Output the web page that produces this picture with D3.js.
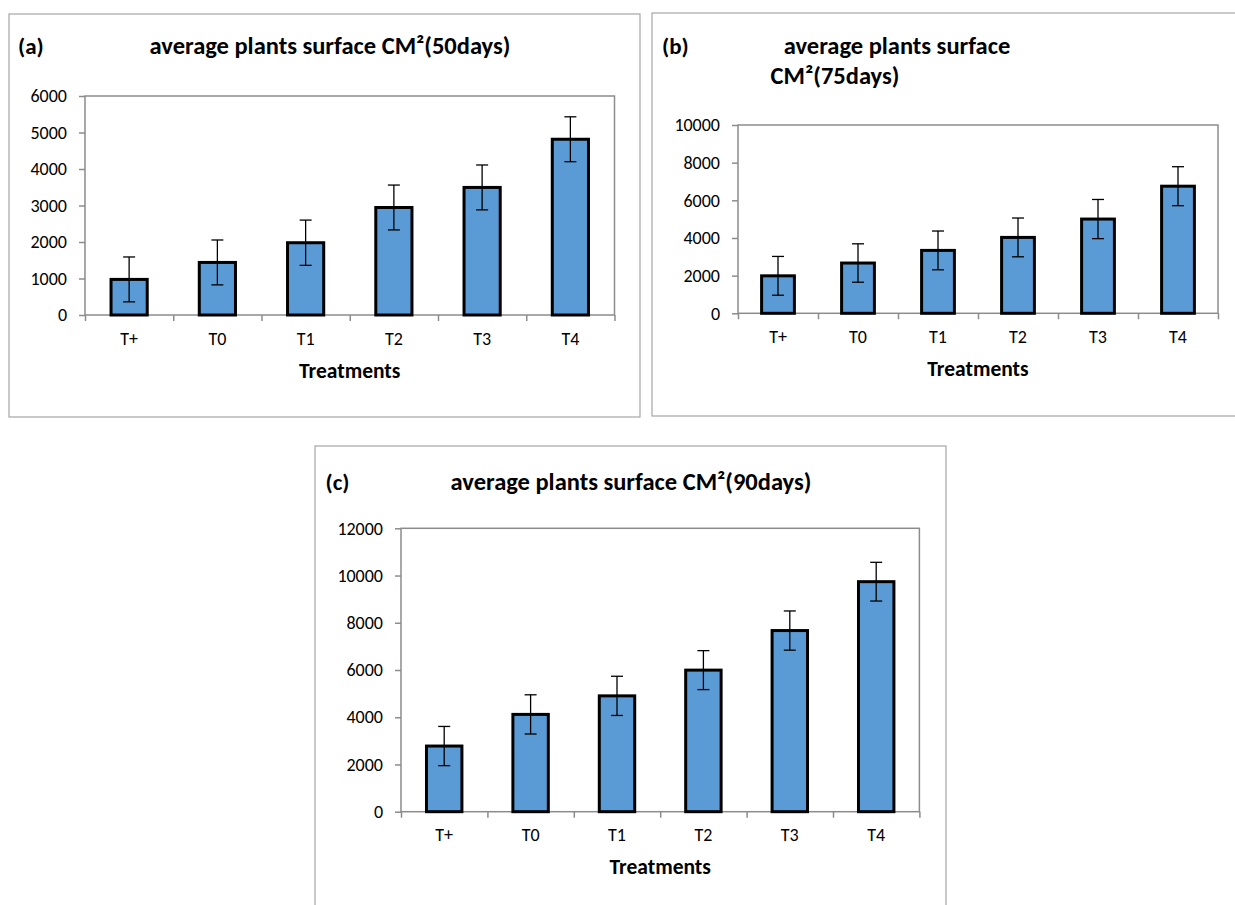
<!DOCTYPE html>
<html>
<head>
<meta charset="utf-8">
<script src="https://cdn.jsdelivr.net/npm/d3@7"></script>
<style>
  body { margin: 0; background: #fff; }
  text { font-family: Carlito, Lato, "Liberation Sans", sans-serif; fill: #000; }
</style>
</head>
<body>
<svg id="chart"></svg>
<script>
var treatments = ["T+", "T0", "T1", "T2", "T3", "T4"];

var mean50 = [975, 1440, 1980, 2945, 3495, 4815];
var err50 = [615, 615, 620, 615, 615, 615];
var ticks50 = [0, 1000, 2000, 3000, 4000, 5000, 6000];

var mean75 = [1990, 2670, 3340, 4030, 5005, 6750];
var err75 = [1030, 1020, 1030, 1030, 1040, 1035];
var ticks75 = [0, 2000, 4000, 6000, 8000, 10000];

var mean90 = [2780, 4120, 4905, 5995, 7670, 9740];
var err90 = [830, 830, 830, 825, 830, 820];
var ticks90 = [0, 2000, 4000, 6000, 8000, 10000, 12000];

var svg = d3.select("#chart").attr("width", 1235).attr("height", 905);

var draw_panel = function(p) {
  var g = svg.append("g");

  // outer frame
  g.append("rect")
    .attr("x", p.frame[0]).attr("y", p.frame[1])
    .attr("width", p.frame[2]).attr("height", p.frame[3])
    .attr("fill", "none").attr("stroke", "#a6a6a6").attr("stroke-width", 1.2);

  // panel letter + title
  g.append("text")
    .attr("x", p.letterX).attr("y", p.titleY)
    .attr("font-size", 23).attr("font-weight", "bold")
    .text(p.letter);
  p.title.forEach(function(t) {
    g.append("text")
      .attr("x", t.x).attr("y", t.y)
      .attr("text-anchor", "middle")
      .attr("font-size", 24.5).attr("font-weight", "bold")
      .text(t.text);
  });

  var x = d3.scaleBand()
    .domain(treatments)
    .range([p.left, p.right])
    .paddingInner(0.59).paddingOuter(0.295);
  var xEdges = d3.scaleLinear().domain([0, treatments.length]).range([p.left, p.right]);
  var y = d3.scaleLinear()
    .domain([0, p.ticks[p.ticks.length - 1]])
    .range([p.bottom, p.top]);

  // plot area border
  g.append("rect")
    .attr("x", p.left).attr("y", p.top)
    .attr("width", p.right - p.left).attr("height", p.bottom - p.top)
    .attr("fill", "none").attr("stroke", "#8c8c8c").attr("stroke-width", 1.5);

  var yAxis = g.append("g")
    .attr("transform", "translate(" + p.left + ",0)")
    .call(d3.axisLeft(y).tickValues(p.ticks).tickSize(6).tickPadding(12).tickFormat(d3.format("d")));
  yAxis.select(".domain").remove();
  yAxis.selectAll("line").attr("stroke", "#8c8c8c").attr("stroke-width", 1.5);
  yAxis.selectAll("text").attr("font-size", 18).attr("font-family", null);

  var xTicks = g.append("g")
    .attr("transform", "translate(0," + p.bottom + ")")
    .call(d3.axisBottom(xEdges).tickValues(d3.range(treatments.length + 1)).tickSize(6).tickFormat(""));
  xTicks.select(".domain").remove();
  xTicks.selectAll("line").attr("stroke", "#8c8c8c").attr("stroke-width", 1.5);

  var xAxis = g.append("g")
    .attr("transform", "translate(0," + p.bottom + ")")
    .call(d3.axisBottom(x).tickSize(0).tickPadding(17));
  xAxis.select(".domain").remove();
  xAxis.selectAll("text").attr("font-size", 18).attr("font-family", null);

  // bars
  g.selectAll("rect.bar")
    .data(p.means)
    .enter()
    .append("rect")
    .attr("class", "bar")
    .attr("x", function(d, i) { return x(treatments[i]); })
    .attr("y", function(d) { return y(d); })
    .attr("width", x.bandwidth())
    .attr("height", function(d) { return p.bottom - y(d); })
    .attr("fill", "#5b9bd5")
    .attr("stroke", "#000")
    .attr("stroke-width", 3);

  // error bars
  var cx = function(i) { return x(treatments[i]) + x.bandwidth() / 2; };
  var eb = g.selectAll("g.err")
    .data(p.means)
    .enter()
    .append("g")
    .attr("class", "err")
    .attr("stroke", "#000")
    .attr("stroke-width", 1.3);
  eb.append("line")
    .attr("x1", function(d, i) { return cx(i); })
    .attr("x2", function(d, i) { return cx(i); })
    .attr("y1", function(d, i) { return y(d - p.errs[i]); })
    .attr("y2", function(d, i) { return y(d + p.errs[i]); });
  eb.append("line")
    .attr("x1", function(d, i) { return cx(i) - 6; })
    .attr("x2", function(d, i) { return cx(i) + 6; })
    .attr("y1", function(d, i) { return y(d + p.errs[i]); })
    .attr("y2", function(d, i) { return y(d + p.errs[i]); });
  eb.append("line")
    .attr("x1", function(d, i) { return cx(i) - 6; })
    .attr("x2", function(d, i) { return cx(i) + 6; })
    .attr("y1", function(d, i) { return y(d - p.errs[i]); })
    .attr("y2", function(d, i) { return y(d - p.errs[i]); });

  g.append("text")
    .attr("x", (p.left + p.right) / 2).attr("y", p.xTitleY)
    .attr("text-anchor", "middle")
    .attr("font-size", 21.5).attr("font-weight", "bold")
    .text("Treatments");
};

draw_panel({
  frame: [9, 14, 631, 403],
  letter: "(a)", letterX: 18, titleY: 54,
  title: [{ text: "average plants surface CM²(50days)", x: 330, y: 54 }],
  left: 85, right: 614.5, top: 96, bottom: 315,
  ticks: ticks50, means: mean50, errs: err50,
  xTitleY: 378
});

draw_panel({
  frame: [652, 13, 600, 403],
  letter: "(b)", letterX: 662, titleY: 54,
  title: [{ text: "average plants surface", x: 897, y: 54 },
          { text: "CM²(75days)", x: 835, y: 84 }],
  left: 738, right: 1218, top: 125, bottom: 313.3,
  ticks: ticks75, means: mean75, errs: err75,
  xTitleY: 376
});

draw_panel({
  frame: [315, 446, 631, 480],
  letter: "(c)", letterX: 325.5, titleY: 490,
  title: [{ text: "average plants surface CM²(90days)", x: 631, y: 490 }],
  left: 401, right: 919.4, top: 528.3, bottom: 811.7,
  ticks: ticks90, means: mean90, errs: err90,
  xTitleY: 874
});
</script>
</body>
</html>
